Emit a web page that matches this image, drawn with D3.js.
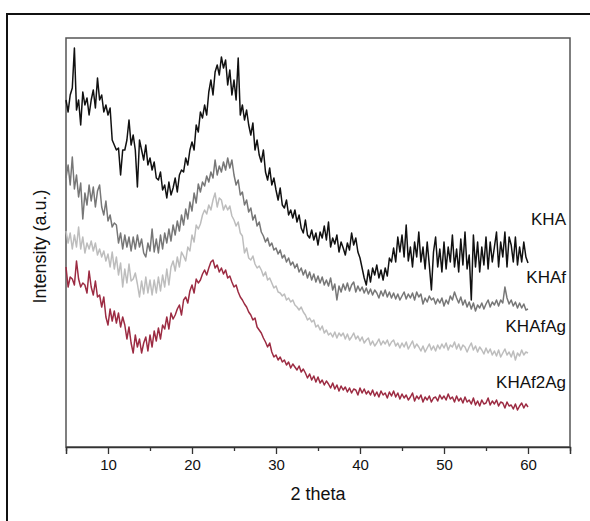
<!DOCTYPE html>
<html>
<head>
<meta charset="utf-8">
<script src="https://cdn.jsdelivr.net/npm/d3@7"></script>
<style>
  body { margin: 0; background: #fff; }
  text { font-family: "Liberation Sans", Arial, Helvetica, sans-serif; fill: #111; }
</style>
</head>
<body>
<div id="wrapper"></div>
<script>
// 2 theta sampling: 5 to 60 deg, step 0.25
const thetaStart = 5;
const thetaStep = 0.25;

// intensities (a.u.), four readings per degree
const kha = [
  347,335,352,359, 399,337,347,322, 355,342,349,332, 347,357,339,369,
  347,352,335,342, 332,339,307,302, 297,299,272,297, 297,307,327,302,
  312,297,260,307, 297,287,302,282, 289,277,285,269, 267,275,257,262,
  249,265,252,259, 269,255,272,277, 275,289,282,297, 305,297,322,315,
  335,329,342,332, 355,367,352,375, 382,372,390,379, 387,362,377,352,
  367,347,389,332, 342,327,337,322, 312,324,297,307, 292,285,297,275,
  267,279,262,269, 257,247,259,242, 239,247,232,237, 229,237,225,232,
  219,214,227,212, 209,217,207,214, 202,215,209,221, 207,225,200,209,
  203,212,195,205, 199,192,204,197, 214,202,209,195, 189,179,169,162,
  177,165,179,172, 182,169,177,167, 179,171,189,185, 199,185,210,195,
  212,190,222,186, 200,180,205,190, 215,185,200,178, 205,182,157,195,
  210,180,198,175, 205,178,200,185, 212,180,198,175, 208,182,215,178,
  192,147,212,180, 205,175,200,182, 210,178,205,185, 200,215,180,205,
  190,215,180,210, 202,185,210,182, 200,185,205,190, 184
];
const khaf = [
  269,282,262,290, 258,272,250,264, 228,254,242,262, 246,260,240,256,
  262,240,232,246, 226,232,220,224, 222,204,214,198, 212,200,210,196,
  210,198,212,200, 208,194,190,204, 196,218,195,208, 194,212,198,214,
  204,218,206,222, 212,226,216,232, 222,238,228,245, 236,254,244,263,
  255,265,261,271, 265,275,269,287, 272,281,275,285, 277,289,279,287,
  272,262,267,252, 255,242,247,235, 239,227,232,221, 225,215,211,205,
  209,201,204,197, 199,193,197,189, 192,185,189,182, 185,179,183,175,
  179,172,177,169, 175,167,173,165, 171,164,170,162, 167,161,169,157,
  163,147,161,155, 163,157,164,156, 162,165,155,161, 156,160,154,159,
  153,158,152,157, 154,149,156,151, 157,150,155,149, 154,148,153,147,
  151,155,148,153, 149,154,147,155, 150,153,143,149, 145,151,147,149,
  143,148,144,149, 141,147,143,151, 147,155,149,144, 150,142,147,140,
  145,138,144,136, 142,139,144,138, 143,147,140,145, 142,147,141,147,
  144,160,149,143, 147,141,145,139, 144,139,143,137, 138
];
const khafag = [
  216,204,214,198, 212,200,220,198, 210,194,204,198, 206,196,204,192,
  198,190,196,186, 193,180,195,178, 190,172,184,160, 178,164,183,166,
  168,174,163,150, 166,153,170,154, 167,152,167,154, 170,156,172,160,
  178,162,180,186, 176,190,180,195, 191,186,200,196, 212,205,222,218,
  223,232,237,233, 242,237,247,254, 240,249,247,237, 242,237,241,231,
  227,221,225,214, 211,194,199,189, 187,191,183,179, 181,177,171,175,
  167,169,164,159, 161,155,154,151, 153,147,149,145, 147,142,140,137,
  140,135,132,127, 129,125,127,120, 122,117,121,114, 117,112,114,110,
  115,109,114,111, 114,108,113,107, 110,114,108,111, 106,110,104,107,
  109,102,106,101, 104,108,102,106, 103,107,101,105, 107,101,104,99,
  104,100,105,98, 102,106,99,103, 100,96,101,95, 99,103,97,101,
  96,102,98,103, 99,104,97,102, 100,105,98,103, 97,102,100,95,
  100,104,97,101, 95,100,97,93, 99,94,98,92, 96,91,97,90,
  94,98,92,95, 90,96,87,94, 91,97,92,95, 94
];
const khaf2ag = [
  180,160,170,168, 162,186,168,160, 164,162,154,176, 160,152,166,150,
  152,140,150,130, 122,138,126,136, 124,134,120,130, 122,108,120,104,
  94,112,100,108, 94,104,110,96, 112,100,116,106, 119,108,122,118,
  130,118,134,128, 132,138,142,132, 147,150,144,156, 162,154,168,164,
  167,173,177,172, 179,185,187,179, 182,175,179,173, 177,169,171,165,
  160,162,155,150, 147,143,140,135, 132,127,129,120, 117,114,109,105,
  100,104,95,90, 92,87,90,85, 87,82,85,79, 83,80,77,81,
  75,78,74,69, 73,67,71,65, 70,64,67,62, 66,63,59,64,
  58,62,56,61, 57,60,55,59, 54,58,57,52, 59,54,58,53,
  56,52,57,51, 55,50,56,52, 54,49,55,51, 56,50,54,48,
  53,49,52,47, 50,54,46,51, 48,52,45,50, 47,51,45,49,
  50,46,52,48, 51,47,53,48, 50,45,51,46, 49,44,50,45,
  47,43,49,42, 46,41,47,43, 44,49,42,46, 43,47,41,45,
  44,39,45,41, 42,38,43,37, 41,44,39,43, 40
];

const seriesNames = ["KHA", "KHAf", "KHAfAg", "KHAf2Ag"];
const seriesValues = [kha, khaf, khafag, khaf2ag];
const seriesColours = ["#111111", "#777777", "#bdbdbd", "#9c2b42"];
// label anchor: intensity level at which each name sits
const labelLevels = [222, 164, 115, 59];

const xTicks = [10, 20, 30, 40, 50, 60];
const xMinorTicks = [5, 15, 25, 35, 45, 55, 65];

/// Dimensions ///
const width = 590;
const height = 521;
const margin = { top: 38, right: 20, bottom: 74, left: 66 };

const svg = d3.select("#wrapper").append("svg")
  .attr("width", width)
  .attr("height", height);

// outer frame
svg.append("rect")
  .attr("x", 7).attr("y", 14)
  .attr("width", 640).attr("height", 560)
  .attr("fill", "none")
  .attr("stroke", "#111")
  .attr("stroke-width", 2);

/// Scales ///
const x = d3.scaleLinear()
  .domain([5, 65])
  .range([margin.left, width - margin.right]);
const y = d3.scaleLinear()
  .domain([0, 409])
  .range([height - margin.bottom, margin.top]);

// plot box
svg.append("rect")
  .attr("x", margin.left).attr("y", margin.top)
  .attr("width", x(65) - x(5))
  .attr("height", y(0) - y(409))
  .attr("fill", "none")
  .attr("stroke", "#555")
  .attr("stroke-width", 1.5);

/// Lines ///
const line = d3.line()
  .x((d, i) => x(thetaStart + i * thetaStep))
  .y(d => y(d));

svg.selectAll("path.trace")
  .data(seriesValues)
  .join("path")
    .attr("class", "trace")
    .attr("d", line)
    .attr("fill", "none")
    .attr("stroke", (d, i) => seriesColours[i])
    .attr("stroke-width", 1.5)
    .attr("stroke-linejoin", "round");

/// Series names ///
svg.selectAll("text.name")
  .data(seriesNames)
  .join("text")
    .attr("class", "name")
    .attr("x", x(65) - 4)
    .attr("y", (d, i) => y(labelLevels[i]))
    .attr("text-anchor", "end")
    .attr("font-size", 17)
    .text(d => d);

/// Axes ///
const xAxis = svg.append("g")
  .attr("transform", `translate(0, ${y(0)})`)
  .call(d3.axisBottom(x).tickValues(xTicks).tickSize(7).tickPadding(5).tickFormat(d3.format("d")));
xAxis.select(".domain").attr("stroke", "#333").attr("stroke-width", 1.5);
xAxis.selectAll(".tick line").attr("stroke", "#333").attr("stroke-width", 1.3);
xAxis.selectAll(".tick text")
  .attr("font-size", 15)
  .attr("font-family", "'Liberation Sans', Arial, sans-serif")
  .attr("fill", "#111");

const xMinor = svg.append("g")
  .attr("transform", `translate(0, ${y(0)})`)
  .call(d3.axisBottom(x).tickValues(xMinorTicks).tickSize(4).tickFormat(""));
xMinor.select(".domain").remove();
xMinor.selectAll(".tick line").attr("stroke", "#333").attr("stroke-width", 1.3);

// axis titles
svg.append("text")
  .attr("x", (x(5) + x(65)) / 2)
  .attr("y", 500)
  .attr("text-anchor", "middle")
  .attr("font-size", 18)
  .text("2 theta");

svg.append("text")
  .attr("transform", `translate(46, ${(y(0) + y(409)) / 2 + 4}) rotate(-90)`)
  .attr("text-anchor", "middle")
  .attr("font-size", 18)
  .text("Intensity (a.u.)");
</script>
</body>
</html>
